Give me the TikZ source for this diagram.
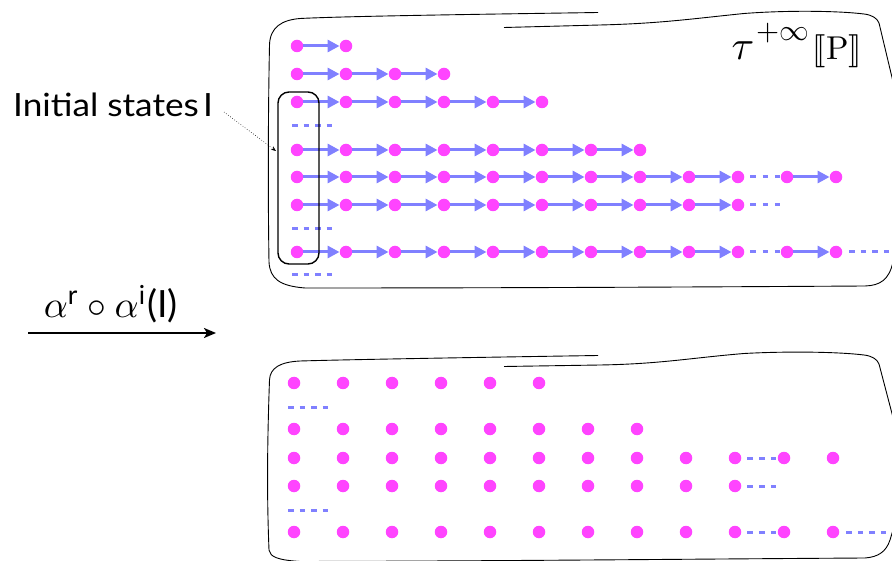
\documentclass[tikz,border=0pt]{standalone}
\usepackage{amsmath}
\usepackage{stmaryrd}
\usepackage{graphicx}
\usepackage{fontspec}
\newfontfamily\gillf{Lato}
\usetikzlibrary{arrows.meta}
\definecolor{dotc}{HTML}{FF44FF}
\definecolor{arrc}{HTML}{8080FF}
\tikzset{
 dot/.style={circle,fill=dotc,draw=none,inner sep=0pt,minimum width=12pt,minimum height=12.5pt},
 trans/.style={draw=arrc,line width=3pt,-{Triangle[length=12pt,width=12pt]}},
 gapdash/.style={draw=arrc,line width=3pt,dash pattern=on 5.5pt off 6pt},
 panel/.style={draw=black,line width=0.9pt},
 initbox/.style={draw=black,line width=1.4pt,rounded corners=11pt,inner sep=0pt},
 lbl/.style={inner sep=0pt,anchor=base west},
 pointer/.style={draw=black,line width=0.6pt,dotted,-{Stealth[length=5pt,width=4pt]}},
 bigarrow/.style={draw=black,line width=2pt,-{Stealth[length=12pt,width=10pt,inset=3pt]}}
}
\begin{document}
\begin{tikzpicture}[x=1pt,y=-1pt]
\useasboundingbox (0,0) rectangle (892,561);
\clip (0,0) rectangle (892,561);

% ---- panels
\draw[panel] (598,12.5) .. controls (500,14) and (350,16) .. (300,18.5)
  .. controls (282,20) and (270,27) .. (269.5,45)
  .. controls (268,120) and (268,200) .. (269,262)
  .. controls (270,279) and (280,286) .. (305,288)
  .. controls (500,288) and (700,287) .. (865,286)
  .. controls (880,285.5) and (889,280) .. (893,262);
\draw[panel] (504,27.5) -- (600,25) .. controls (660,23.5) and (690,19) .. (744,13.5)
  .. controls (790,10) and (840,11) .. (864,14)
  .. controls (872,15) and (877,18) .. (879,23) -- (895,90);

\draw[panel] (598,355.5) .. controls (500,357) and (350,359.5) .. (300,361)
  .. controls (280,362) and (270,368) .. (269.5,380)
  .. controls (267,450) and (267,500) .. (269,550)
  .. controls (270,557) and (278,560) .. (300,561.5)
  .. controls (500,561) and (700,559) .. (865,558)
  .. controls (878,557) and (886,552) .. (890,540) -- (893,530);
\draw[panel] (504,366.5) -- (600,365) .. controls (660,364) and (690,358) .. (744,353.5)
  .. controls (790,351) and (840,352) .. (864,355)
  .. controls (872,356) and (877,359) .. (879,364) -- (895,425);

% ---- top traces
\foreach \r/\y/\n in {a/46/1, b/74/3, c/102/5, d/150/7, e/177/11, f/205/9, g/252/11}
  \foreach \i in {0,...,\n}
    \node[dot] (t\r\i) at ({297+49*\i},\y) {};
\foreach \r/\m in {a/1,b/3,c/5,d/7,e/9,f/9,g/9}
  \foreach \i [count=\j from 0] in {1,...,\m}
    \draw[trans] (t\r\j) -- (t\r\i);
\draw[trans] (te10) -- (te11);
\draw[trans] (tg10) -- (tg11);
\draw[gapdash,dash pattern=on 5.5pt off 6.75pt] ([xshift=6pt]te9.east) -- ([xshift=-1pt]te10.west);
\draw[gapdash,dash pattern=on 5.5pt off 6.75pt] ([xshift=6pt]tg9.east) -- ([xshift=-1pt]tg10.west);
\draw[gapdash,dash pattern=on 5.5pt off 6.75pt] ([xshift=6pt]tf9.east) -- ++(30,0);
\draw[gapdash] ([xshift=7pt]tg11.east) -- ++(52,0);
\draw[gapdash] (292,126) -- (332,126);
\draw[gapdash] (292,229) -- (332,229);
\draw[gapdash] (292,275) -- (332,275);

% ---- bottom states
\foreach \r/\y/\n in {a/383/5, b/429/7, c/458/11, d/486/9, e/532/11}
  \foreach \i in {0,...,\n}
    \node[dot] (b\r\i) at ({294+49*\i},\y) {};
\draw[gapdash,dash pattern=on 5.5pt off 6.25pt] ([xshift=6pt]bc9.east) -- ([xshift=-2pt]bc10.west);
\draw[gapdash,dash pattern=on 5.5pt off 6.25pt] ([xshift=6pt]be9.east) -- ([xshift=-2pt]be10.west);
\draw[gapdash,dash pattern=on 5.5pt off 6.25pt] ([xshift=6pt]bd9.east) -- ++(29,0);
\draw[gapdash] ([xshift=7pt]be11.east) -- ++(40,0);
\draw[gapdash] (288,407) -- (328,407);
\draw[gapdash] (288,510) -- (328,510);

% ---- initial states box and label
\node[initbox,minimum width=41pt,minimum height=172pt] (init) at (298.5,178) {};
\node[lbl,font=\gillf\fontsize{32}{36}\selectfont] (lab) at (13,117)
  {\scalebox{1.1}[1]{Initial states\hspace{0.12em}I}};
\coordinate (dstart) at (224,112);
\coordinate (dend) at (276,151);
\draw[pointer] (dstart) -- (dend);

% ---- tau label
\node[lbl,scale=3.3] (tau) at (731,60)
  {\scalebox{1.25}{$\tau$}\hspace{0.05em}\raisebox{6pt}{\scalebox{0.9}{${+}{\infty}$}}\hspace{0.12em}$\llbracket\mathrm{P}\rrbracket$};

% ---- abstraction arrow
\node[lbl,scale=3.75] (alab) at (43,318)
  {$\alpha^{\text{\gillf r}}\circ\alpha^{\text{\gillf i}}\text{\gillf (I)}$};
\coordinate (as) at (28,333);
\coordinate (ae) at (216,333);
\draw[bigarrow] (as) -- (ae);
\end{tikzpicture}
\end{document}
